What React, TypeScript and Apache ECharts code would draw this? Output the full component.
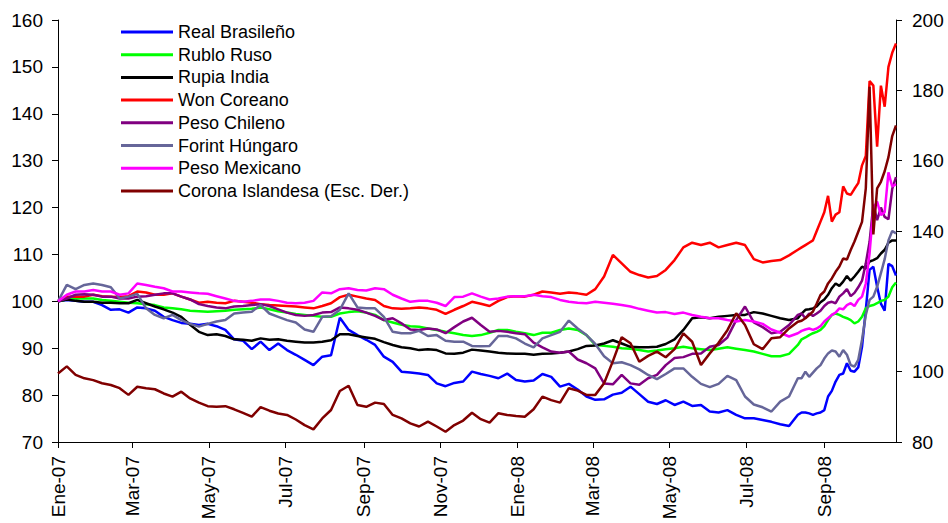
import React, { useEffect, useRef } from "react";
import * as echarts from "echarts";

const FONT = "'Liberation Sans', Arial, sans-serif";
const START = Date.UTC(2007, 0, 1);
const DAY = 86400000;
const TOTAL_DAYS = 667; // 2007-01-01 .. 2008-10-28
const MONTHS_ES = ["Ene", "Feb", "Mar", "Abr", "May", "Jun", "Jul", "Ago", "Sep", "Oct", "Nov", "Dic"];

const dayStr = (d: number) => new Date(START + d * DAY).toISOString().slice(0, 10);
const axisDays: string[] = Array.from({ length: TOTAL_DAYS }, (_, i) => dayStr(i));

// sample dates: weekly up to day 588, then every 3 days, then last day
const sampleDays: number[] = [];
for (let d = 0; d <= 588; d += 7) sampleDays.push(d);
for (let d = 591; d <= 663; d += 3) sampleDays.push(d);
sampleDays.push(666);
const sampleDates = sampleDays.map(dayStr);

const realBrasileno = [
  100, 100.3, 100.1, 99.9, 99.9, 99.2, 98.2, 98.3, 97.6, 98.7,
  98.5, 98, 96.7, 96, 95.4, 95.2, 94.95, 95.2, 94.7, 93.9,
  91.9, 91.6, 89.8, 91.4, 89.6, 91, 89.6, 88.6, 87.5, 86.4,
  88.2, 88.5, 96.5, 93.9, 92.8, 91.8, 90.7, 88.2, 87.1, 85,
  84.8, 84.6, 84.3, 82.5, 81.9, 82.6, 82.9, 85, 84.5, 84.1,
  83.6, 84.6, 83.2, 82.9, 83.1, 84.5, 83.9, 81.8, 82.4, 81.2,
  79.7, 79, 79.1, 80.1, 80.5, 81.8, 80.2, 78.6, 78.1, 78.9,
  77.9, 78.6, 77.7, 77.9, 76.5, 76.3, 76.8, 75.8, 75.05, 75.05,
  74.7, 74.3, 73.8, 73.4, 75.8,
  76.3, 76.3, 76.1, 75.8, 76.1, 76.3, 76.8, 79.7, 80.9, 82.9, 84.3, 84.6, 86.8, 85.2, 85, 85.9,
  90.3, 98.2, 106.7, 107.4, 103.1, 99.5, 98, 108, 107.5, 105.5,
];
const rubloRuso = [
  100, 100.4, 100.6, 100.6, 100.6, 100.3, 100.1, 99.9, 99.7, 99.6,
  99.4, 99.2, 98.7, 98.5, 98.3, 98, 97.9, 97.8, 97.9, 98,
  98.2, 98.3, 98.4, 98.7, 98.3, 97.9, 97.6, 97.3, 97.1, 96.9,
  96.7, 96.7, 97.4, 97.7, 97.9, 97.6, 97.1, 96, 95.5, 95,
  94.7, 94.6, 94.2, 93.9, 93.5, 93.2, 92.8, 92.6, 92.8, 93.3,
  93.9, 93.9, 93.5, 93.2, 92.8, 93.3, 93.3, 93.9, 94.2, 93.9,
  92.8, 90.7, 90.5, 90.3, 90, 89.9, 89.6, 89.3, 89.5, 89.8,
  90, 90.3, 90, 89.8, 89.6, 89.9, 90.2, 89.9, 89.6, 89.3,
  88.8, 88.3, 88.3, 88.8, 90.7,
  91.9, 92.3, 92.8, 93.2, 93.5, 93.9, 94.7, 96, 97.1, 97.4, 97.1, 96.7, 96.4, 96, 95.3, 95.7,
  96.7, 98.5, 99, 99.2, 99.6, 100.1, 100.3, 101, 103, 104,
];
const rupiaIndia = [
  100, 100.4, 100.1, 99.9, 99.9, 99.7, 99.7, 99.6, 99.6, 100.3,
  99.6, 98.9, 98.3, 97.6, 96.7, 95, 93.5, 92.8, 93, 92.6,
  91.9, 91.8, 91.6, 92.1, 91.8, 91.9, 91.6, 91.4, 91.2, 91.2,
  91.4, 91.7, 93, 93, 92.6, 92.3, 92, 91.3, 90.7, 90.2,
  90, 89.6, 89.8, 89.6, 88.9, 88.8, 89.05, 89.7, 89.5, 89.3,
  89.05, 88.9, 88.8, 88.8, 88.6, 88.8, 88.9, 89.05, 89.3, 89.8,
  90.5, 90.6, 91, 91.7, 91, 90.3, 90.2, 90.2, 90.3, 90.9,
  91.9, 93.9, 96.4, 96.6, 96.4, 96.7, 96.9, 97.1, 97.1, 97.7,
  97.4, 96.9, 96.4, 96, 96.4,
  97.4, 98.2, 98.3, 98.5, 98.9, 99.8, 100.4, 101.4, 102.8, 103.8, 103.3, 104.2, 105.4, 104.4, 105.3, 106.3,
  107.4, 107, 108.5, 108.8, 109.2, 110.2, 111, 112.5, 113, 113,
];
const wonCoreano = [
  100, 101, 101, 101, 101.4, 101.1, 101, 100.9, 101.1, 102.1,
  101.9, 101.4, 101.4, 101.7, 101, 100.4, 99.7, 99.9, 99.7, 99.6,
  100.1, 99.9, 99.7, 99.4, 99.2, 99.1, 99, 98.9, 98.7, 98.5,
  99, 99.6, 100.9, 101.4, 101, 100.6, 100.3, 99, 98.5, 98.4,
  98.5, 98.7, 98.5, 98.2, 97.3, 98.2, 99, 99.9, 99.5, 99,
  100.1, 100.9, 101.1, 101, 101.4, 102.1, 101.9, 101.6, 101.9, 101.7,
  101.4, 102.6, 105.3, 109.9, 108.1, 106.3, 105.6, 105.1, 105.4, 106.7,
  108.8, 111.5, 112.5, 112, 112.5, 111.5, 112, 112.5, 112, 109,
  108.3, 108.6, 108.8, 109.8, 111,
  111.5, 112, 112.5, 113, 115, 117, 119, 122.5, 117, 118.5, 119, 124.5, 123, 122.7, 124, 125.2,
  129, 131, 147, 146, 133, 146, 141.5, 150, 153, 155,
];
const pesoChileno = [
  100, 100.6, 101.4, 101.5, 101.4, 101, 101, 100.6, 100.6, 101,
  101.1, 101.4, 101.7, 101.7, 101, 100.4, 99.4, 99, 98.7, 98.5,
  98.9, 99, 99.2, 99.4, 99, 98.3, 97.6, 97.1, 96.9, 97.1,
  97.6, 97.7, 98.7, 98.5, 98.2, 97.6, 96.9, 96, 96.4, 95.3,
  94, 93.9, 94.2, 94, 93.2, 94.5, 95.7, 96.5, 94.95, 93.5,
  93.7, 93.5, 93.2, 93, 91.2, 90.2, 89.3, 89.05, 89.3, 87.6,
  86.8, 85.7, 82.5, 82.3, 84.3, 82.5, 82.2, 83.6, 84.3, 86.4,
  87.9, 88.1, 88.8, 88.9, 90.3, 90.7, 92.3, 96, 98.9, 95.5,
  94.5, 93.2, 93.5, 94.95, 97.1,
  97.4, 96.4, 97.4, 96.9, 97.4, 98, 99, 99.7, 99.9, 99.6, 101, 101.7, 102.6, 101.1, 101.8, 103,
  104.4, 108.1, 112.7, 120.6, 117.3, 120, 118, 117.5, 124, 126.5,
];
const forintHungaro = [
  100, 103.5, 102.6, 103.5, 103.8, 103.5, 103, 100.6, 101, 101.6,
  98.5, 97.1, 96.4, 97.1, 96, 95.2, 94.6, 95.2, 95.7, 96,
  97.4, 97.6, 97.8, 99.2, 97.4, 96.7, 96, 95.5, 94, 93.5,
  96.7, 96.8, 98.2, 101.7, 98.7, 98.5, 98.5, 96.7, 93.5, 93.2,
  93.2, 93.7, 92.6, 92.8, 91.6, 91.4, 91.4, 90.5, 90.4, 90.5,
  92.6, 92.6, 92.1, 91, 90.2, 92.1, 92.8, 93.5, 95.9, 94.2,
  92.8, 90.9, 88.3, 86.8, 87, 86.4, 85.5, 84.3, 83.4, 84.5,
  85.7, 85.7, 83.9, 82.4, 81.7, 82.4, 84.1, 83.2, 79.7, 78,
  77.4, 76.5, 78.6, 79.7, 83.6,
  83.6, 85, 83.9, 84.8, 85.7, 86.4, 87.8, 88.9, 89.5, 89.3, 88.2, 89.6, 88.6, 86.4, 86.1, 87.5,
  91.8, 97.1, 100.3, 101, 103.1, 106, 109, 113, 115, 114.5,
];
const pesoMexicano = [
  100, 101.4, 102.1, 102.1, 102.4, 102.1, 102.1, 101.4, 101.7, 103.8,
  103.5, 103.1, 102.8, 102.1, 102.1, 101.9, 101.7, 101.6, 101.1, 100.6,
  100.1, 99.9, 100.1, 100.4, 100.4, 100.1, 99.7, 99.6, 99.7, 100.1,
  101.9, 101.7, 102.6, 102.8, 102.4, 102.3, 102.8, 102.6, 101.4, 100.6,
  99.9, 100.1, 100.1, 99.7, 99, 100.9, 101, 101.7, 101, 100.4,
  100.6, 101, 101.1, 101.1, 101.4, 101.1, 100.9, 100.3, 99.9, 99.7,
  99.6, 99.9, 99.7, 99.5, 99.2, 98.9, 98.4, 98, 97.6, 97.7,
  97.3, 97.6, 97.1, 96.7, 96.4, 96.4, 96, 95.7, 96, 95.7,
  95.2, 94, 93.3, 92.5, 93.2,
  93.7, 94, 94.2, 93.9, 94.2, 94.7, 95.7, 96.4, 97.1, 97.6, 98.5, 98.3, 99.2, 99.6, 99, 100.3,
  101, 103.8, 110.2, 119.8, 121.3, 118.4, 119, 127.5, 124.5, 125,
];
const coronaIslandesa = [
  99.5, 101.5, 99.1, 98.1, 97.6, 96.7, 96.2, 95.3, 93.4, 95.7,
  95.3, 95, 93.8, 92.9, 94.3, 92.4, 91.2, 90.2, 90, 90.2,
  89.3, 88.3, 87.2, 89.9, 88.9, 88.1, 87.7, 86.4, 84.8, 83.6,
  86.7, 89.1, 94.5, 96, 90.5, 90, 91.2, 90.8, 87.7, 86.7,
  85.3, 84.4, 85.8, 84.4, 82.9, 84.8, 86.1, 88.3, 86.5, 85.5,
  88.2, 87.7, 87.4, 87.2, 89.3, 92.9, 91.9, 91.2, 95.3, 94.6,
  93.4, 93.4, 96.7, 103, 109.8, 108.1, 102.8, 104.5, 105.7, 104.1,
  106.4, 110.9, 108.5, 101.9, 105.2, 108.2, 111.8, 116.6, 113.3, 107.8,
  106.4, 109.5, 109.8, 112.3, 114.2,
  114.5, 115.2, 116.1, 117.1, 119.4, 121.8, 122.8, 125.1, 126.5, 128.4, 129.9, 132.2, 131.9, 134.6, 137, 139.8,
  142.6, 152.1, 181, 139, 152.1, 154, 157, 161, 167, 170,
];

const seriesDefs = [
  { name: "Real Brasileño", values: realBrasileno, color: "#0000FF", axis: 0 },
  { name: "Rublo Ruso", values: rubloRuso, color: "#00FF00", axis: 0 },
  { name: "Rupia India", values: rupiaIndia, color: "#000000", axis: 0 },
  { name: "Won Coreano", values: wonCoreano, color: "#FF0000", axis: 0 },
  { name: "Peso Chileno", values: pesoChileno, color: "#800080", axis: 0 },
  { name: "Forint Húngaro", values: forintHungaro, color: "#666699", axis: 0 },
  { name: "Peso Mexicano", values: pesoMexicano, color: "#FF00FF", axis: 0 },
  { name: "Corona Islandesa (Esc. Der.)", values: coronaIslandesa, color: "#800000", axis: 1 },
];

const isTickDay = (_i: number, v: string) => {
  const d = new Date(v + "T00:00:00Z");
  return d.getUTCDate() === 1 && d.getUTCMonth() % 2 === 0;
};
const fmtLabel = (v: string) => {
  const d = new Date(v + "T00:00:00Z");
  return MONTHS_ES[d.getUTCMonth()] + "-" + String(d.getUTCFullYear()).slice(2);
};

export default function App() {
  const ref = useRef<HTMLDivElement>(null);
  useEffect(() => {
    document.body.style.margin = "0";
    if (!ref.current) return;
    const chart = echarts.init(ref.current, undefined, { renderer: "svg" });
    const axisText = { color: "#000", fontSize: 19, fontFamily: FONT };
    chart.setOption({
      animation: false,
      backgroundColor: "#ffffff",
      textStyle: { fontFamily: FONT, color: "#000" },
      grid: { left: 58, right: 52, top: 20, bottom: 81, containLabel: false, outerBoundsMode: "none" },
      legend: {
        orient: "vertical",
        left: 121,
        top: 20.65,
        padding: 0,
        itemWidth: 52,
        itemHeight: 3,
        itemGap: 0,
        icon: "rect",
        selectedMode: false,
        textStyle: { fontSize: 18, lineHeight: 22.7, color: "#000", fontFamily: FONT },
        data: seriesDefs.map((s) => s.name),
      },
      xAxis: {
        type: "category",
        data: axisDays,
        boundaryGap: false,
        axisLine: { show: true, lineStyle: { color: "#000", width: 1 } },
        axisTick: { show: true, interval: isTickDay, length: 6, lineStyle: { color: "#000" } },
        axisLabel: { ...axisText, interval: isTickDay, rotate: 90, margin: 14, formatter: fmtLabel },
        splitLine: { show: false },
      },
      yAxis: [
        {
          type: "value",
          min: 70,
          max: 160,
          interval: 10,
          position: "left",
          axisLine: { show: true, lineStyle: { color: "#000", width: 1 } },
          axisTick: { show: true, length: 6, lineStyle: { color: "#000" } },
          axisLabel: { ...axisText, margin: 15 },
          splitLine: { show: false },
        },
        {
          type: "value",
          min: 80,
          max: 200,
          interval: 20,
          position: "right",
          axisLine: { show: true, lineStyle: { color: "#000", width: 1 } },
          axisTick: { show: true, length: 6, lineStyle: { color: "#000" } },
          axisLabel: { ...axisText, margin: 16 },
          splitLine: { show: false },
        },
      ],
      series: seriesDefs.map((s) => ({
        name: s.name,
        type: "line",
        yAxisIndex: s.axis,
        showSymbol: false,
        symbol: "none",
        color: s.color,
        lineStyle: { color: s.color, width: 2.5 },
        data: s.values.map((v, i) => [sampleDates[i], v]),
      })),
    });
    return () => chart.dispose();
  }, []);
  return <div ref={ref} style={{ width: 948, height: 523 }} />;
}
